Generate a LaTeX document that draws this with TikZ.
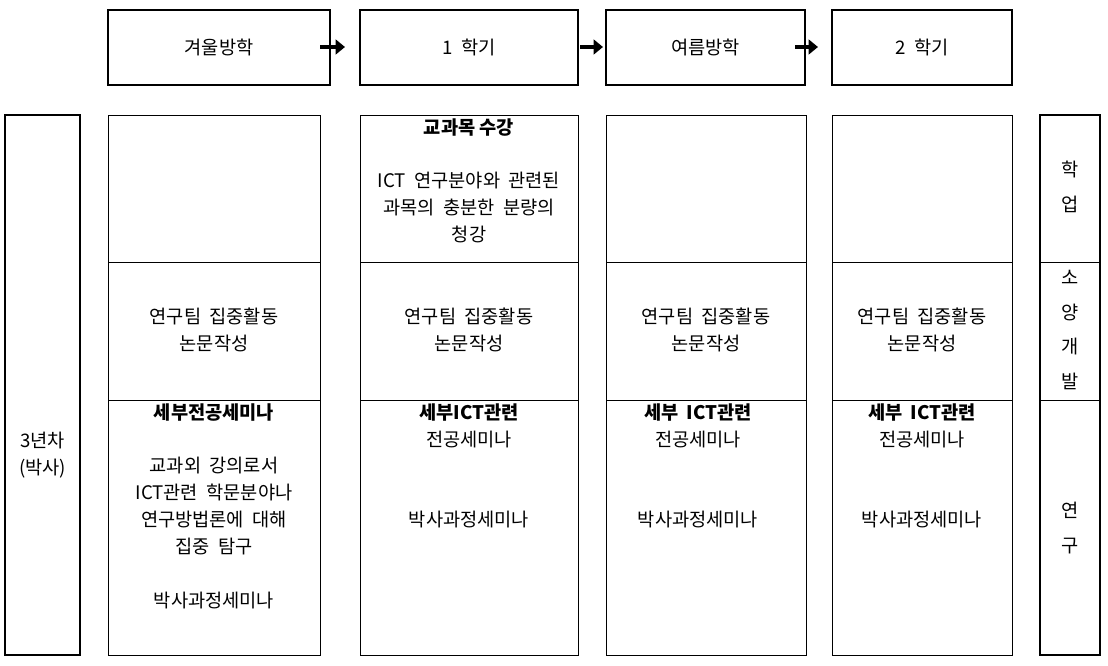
\documentclass[tikz,border=0pt]{standalone}
\usepackage{fontspec}
\setmainfont{Noto Sans CJK KR}
\usetikzlibrary{arrows.meta}
\begin{document}
\begin{tikzpicture}[x=0.75pt,y=-0.75pt,
 thick box/.style={draw,line width=2pt},
 thin box/.style={draw,line width=0.6pt},
 lbl/.style={align=center,font=\fontsize{14}{20.25}\selectfont,inner sep=0pt},
 arr/.style={line width=3.5pt,-{Triangle[length=7pt,width=11pt]}}]
\useasboundingbox (0,0) rectangle (1108,665);
% top boxes
\node[thick box,minimum width=222*0.75pt,minimum height=75*0.75pt,lbl] (t1) at (219,47.5) {겨울방학};
\node[thick box,minimum width=218*0.75pt,minimum height=75*0.75pt,lbl] (t2) at (469,47.5) {1\ \ 학기};
\node[thick box,minimum width=199*0.75pt,minimum height=75*0.75pt,lbl] (t3) at (705.5,47.5) {여름방학};
\node[thick box,minimum width=180*0.75pt,minimum height=75*0.75pt,lbl] (t4) at (922,47.5) {2\ \ 학기};
\coordinate (a1s) at (320,47); \coordinate (a1e) at (345,47);
\coordinate (a2s) at (580,47); \coordinate (a2e) at (603,47);
\coordinate (a3s) at (795,47); \coordinate (a3e) at (818,47);
\draw[arr] (a1s) -- (a1e);
\draw[arr] (a2s) -- (a2e);
\draw[arr] (a3s) -- (a3e);
% left and right
\draw[line width=2pt] (5,115) rectangle (80,655);
\node[lbl] (yr) at (42.5,455) {3년차\\(박사)};
\draw[line width=2pt] (1040,115) rectangle (1100,655);
\draw[thin box] (1040,262) -- (1100,262) (1040,400) -- (1100,400);
\node[lbl,font=\fontsize{14}{26}\selectfont] (r1) at (1070,187) {학\\업};
\node[lbl,font=\fontsize{14}{26}\selectfont] (r2) at (1070,330) {소\\양\\개\\발};
\node[lbl,font=\fontsize{14}{26}\selectfont] (r3) at (1070,528) {연\\구};
% columns
\foreach \a/\b in {108/320,360/578,606/806,832/1012}{
 \draw[thin box] (\a,115) rectangle (\b,655);
 \draw[thin box] (\a,262) -- (\b,262) (\a,400) -- (\b,400);
 \node[lbl] at ({(\a+\b)/2},330) {연구팀\ \ 집중활동\\논문작성};
}
\node[lbl,anchor=north] (c2a) at (469,118) {\textbf{교과목 수강}\\[20pt]ICT\ \ 연구분야와\ \ 관련된\\과목의\ \ 충분한\ \ 분량의\\청강};
\node[lbl,anchor=north] (c1r) at (214,403) {\textbf{세부전공세미나}\\[20pt]교과외\ \ 강의로서\\ICT관련\ \ 학문분야나\\연구방법론에\ \ 대해\\집중\ \ 탐구\\[20pt]박사과정세미나};
\node[lbl,anchor=north] (c2r) at (469,403) {\textbf{세부ICT관련}\\전공세미나\\[40pt]박사과정세미나};
\node[lbl,anchor=north] (c3r) at (698,403) {\textbf{세부\ \ ICT관련}\\전공세미나\\[40pt]박사과정세미나};
\node[lbl,anchor=north] (c4r) at (922,403) {\textbf{세부\ \ ICT관련}\\전공세미나\\[40pt]박사과정세미나};
\end{tikzpicture}
\end{document}
